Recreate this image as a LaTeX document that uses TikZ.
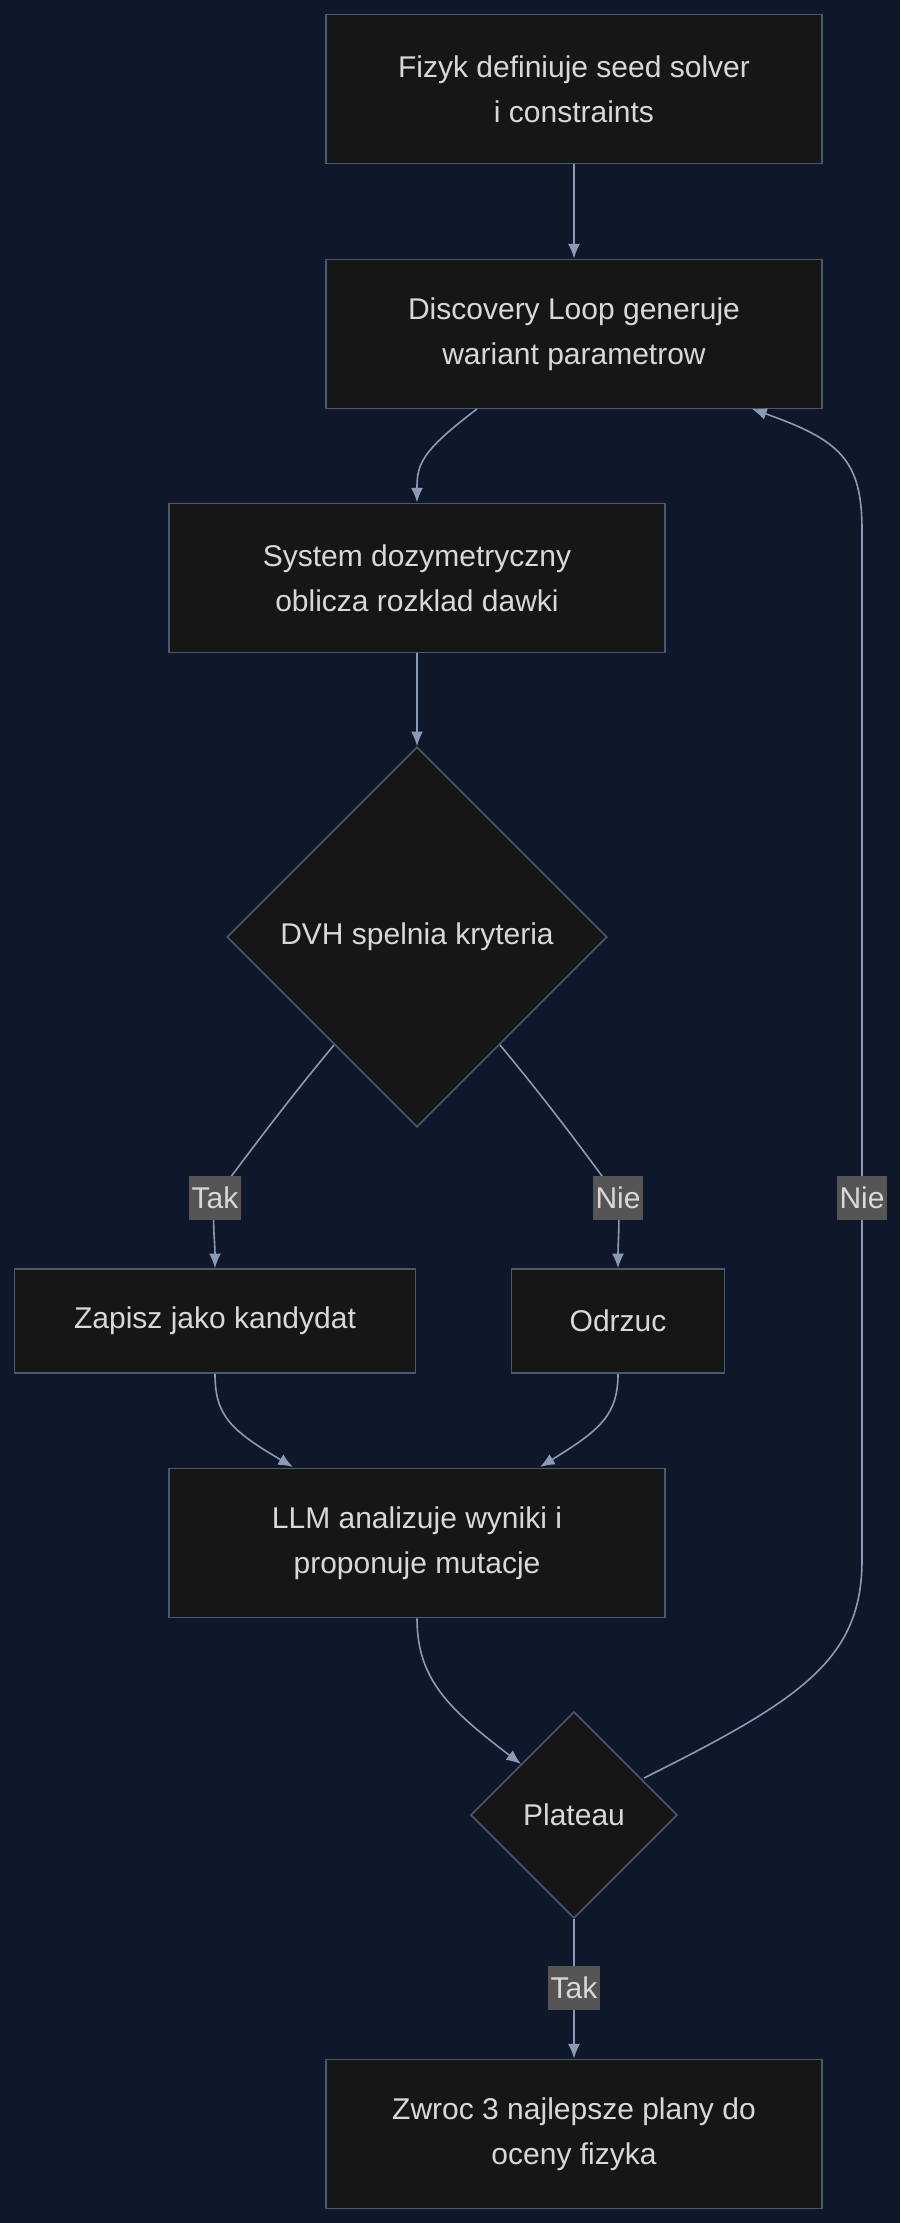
\documentclass[tikz,border=0pt]{standalone}
\usepackage{fontspec}
\setmainfont{Liberation Sans}
\usetikzlibrary{shapes.geometric,arrows.meta}
\definecolor{bg}{HTML}{0F172A}
\definecolor{boxf}{HTML}{161616}
\definecolor{boxd}{HTML}{4A5870}
\definecolor{edge}{HTML}{8A9BB5}
\definecolor{txt}{HTML}{D8D8D8}
\definecolor{lab}{HTML}{555555}
\begin{document}
\begin{tikzpicture}[x=0.75pt,y=-0.75pt,
 box/.style={draw=boxd,fill=boxf,line width=1.2pt,text=txt,align=center,font=\fontsize{22.5}{34}\selectfont,inner sep=0pt},
 dia/.style={diamond,draw=boxd,fill=boxf,line width=1.2pt,text=txt,font=\fontsize{22.5}{34}\selectfont,inner sep=0pt},
 lbl/.style={fill=lab,text=txt,font=\fontsize{22.5}{26}\selectfont,inner xsep=2pt,inner ysep=0pt,minimum height=33pt},
 ar/.style={draw=edge,line width=1.2pt,-{Latex[length=11pt,width=9pt]}},
 ln/.style={draw=edge,line width=1.2pt}]
\fill[bg] (0,0) rectangle (900,2223);
\useasboundingbox (0,0) rectangle (900,2223);
\node[box,minimum width=372pt,minimum height=112pt] (a) at (574,89) {Fizyk definiuje seed solver\\i constraints};
\node[box,minimum width=372pt,minimum height=112pt] (b) at (574,334) {Discovery Loop generuje\\wariant parametrow};
\node[box,minimum width=372pt,minimum height=112pt] (c) at (417,578) {System dozymetryczny\\oblicza rozklad dawki};
\node[dia,minimum width=285pt,minimum height=285pt] (d) at (417,937) {DVH spelnia kryteria};
\node[box,minimum width=301pt,minimum height=78pt] (e) at (215,1321) {Zapisz jako kandydat};
\node[box,minimum width=160pt,minimum height=78pt] (f) at (618,1321) {Odrzuc};
\node[box,minimum width=372pt,minimum height=112pt] (g) at (417,1543) {LLM analizuje wyniki i\\proponuje mutacje};
\node[dia,minimum width=155pt,minimum height=155pt] (h) at (574,1815) {Plateau};
\node[box,minimum width=372pt,minimum height=112pt] (i) at (574,2134) {Zwroc 3 najlepsze plany do\\oceny fizyka};
\draw[ar] (a.south) -- (b.north);
\draw[ar] (477,409) .. controls (420,452) and (417,465) .. (c.north);
\draw[ar] (c.south) -- (d.north);
\coordinate (t1) at (215,1198);
\coordinate (n1) at (618,1198);
\draw[ar] (334,1045) .. controls (280,1110) and (240,1165) .. (t1) .. controls (212,1225) and (215,1240) .. (e.north);
\draw[ar] (500,1045) .. controls (554,1110) and (594,1165) .. (n1) .. controls (620,1225) and (618,1240) .. (f.north);
\node[lbl] at (t1) {Tak};
\node[lbl] at (n1) {Nie};
\draw[ar] (e.south) .. controls (215,1415) and (230,1430) .. (293,1467);
\draw[ar] (f.south) .. controls (618,1415) and (600,1430) .. (540,1467);
\draw[ar] (g.south) .. controls (417,1680) and (450,1710) .. (521,1764);
\coordinate (t2) at (574,1988);
\draw[ar] (h.south) -- (t2) -- (i.north);
\node[lbl] at (t2) {Tak};
\coordinate (n2) at (862,1198);
\draw[ar] (644,1778) .. controls (800,1700) and (862,1660) .. (862,1560) -- (n2) -- (862,530) .. controls (862,460) and (840,440) .. (752,409);
\node[lbl] at (n2) {Nie};
\end{tikzpicture}
\end{document}
